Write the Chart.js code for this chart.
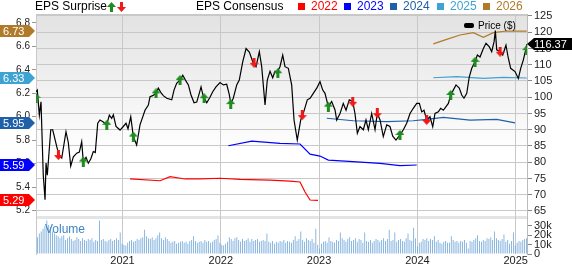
<!DOCTYPE html>
<html>
<head>
<meta charset="utf-8">
<script src="https://cdn.jsdelivr.net/npm/chart.js@4.4.1/dist/chart.umd.min.js"></script>
<style>
  html, body { margin: 0; padding: 0; background: #fff; }
  #wrap { width: 572px; height: 264px; }
</style>
</head>
<body>
<div id="wrap"><canvas id="chart" width="572" height="264"></canvas></div>
<script>
// Price line: time as decimal year, price in $
const priceT = [
  2020.120, 2020.133, 2020.154, 2020.171, 2020.194, 2020.212, 2020.222, 2020.235, 2020.270, 2020.290,
  2020.331, 2020.354, 2020.382, 2020.425, 2020.449, 2020.473, 2020.500, 2020.534, 2020.561, 2020.585,
  2020.601, 2020.629, 2020.652, 2020.677, 2020.703, 2020.723, 2020.748, 2020.771, 2020.805, 2020.839,
  2020.866, 2020.890, 2020.907, 2020.934, 2020.975, 2021.008, 2021.036, 2021.056, 2021.084, 2021.110,
  2021.144, 2021.178, 2021.229, 2021.263, 2021.280, 2021.307, 2021.341, 2021.364, 2021.389, 2021.415,
  2021.450, 2021.501, 2021.524, 2021.551, 2021.585, 2021.613, 2021.636, 2021.670, 2021.697, 2021.728,
  2021.755, 2021.781, 2021.799, 2021.822, 2021.857, 2021.890, 2021.918, 2021.951, 2021.992, 2022.026,
  2022.060, 2022.087, 2022.101, 2022.127, 2022.162, 2022.188, 2022.223, 2022.257, 2022.290, 2022.325,
  2022.358, 2022.392, 2022.416, 2022.450, 2022.473, 2022.501, 2022.528, 2022.552, 2022.569, 2022.602,
  2022.630, 2022.653, 2022.687, 2022.721, 2022.745, 2022.778, 2022.813, 2022.840, 2022.880, 2022.908,
  2022.941, 2022.976, 2023.009, 2023.037, 2023.060, 2023.094, 2023.128, 2023.162, 2023.179, 2023.213,
  2023.246, 2023.274, 2023.307, 2023.342, 2023.365, 2023.389, 2023.416, 2023.450, 2023.477, 2023.501,
  2023.535, 2023.569, 2023.592, 2023.620, 2023.653, 2023.688, 2023.721, 2023.749, 2023.782, 2023.823,
  2023.857, 2023.891, 2023.925, 2023.958, 2023.993, 2024.020, 2024.044, 2024.067, 2024.095, 2024.128,
  2024.156, 2024.179, 2024.213, 2024.237, 2024.264, 2024.291, 2024.315, 2024.339, 2024.365, 2024.393,
  2024.426, 2024.451, 2024.474, 2024.502, 2024.528, 2024.553, 2024.586, 2024.610, 2024.637, 2024.671,
  2024.698, 2024.732, 2024.756, 2024.780, 2024.793, 2024.807, 2024.841, 2024.868, 2024.901, 2024.925,
  2024.949, 2024.993, 2025.027, 2025.051, 2025.078, 2025.115
];
const priceV = [
  101.7, 102.2, 94.5, 98.6, 76.0, 68.5, 79.8, 76.0, 90.0, 90.0,
  84.8, 82.2, 81.3, 89.4, 86.0, 78.8, 81.7, 82.8, 83.1, 86.3,
  80.2, 81.5, 79.7, 81.0, 83.3, 83.0, 92.0, 93.0, 92.4, 91.5,
  94.5, 93.5, 94.6, 91.0, 89.9, 91.0, 92.0, 90.3, 94.0, 87.9,
  85.3, 91.5, 96.0, 97.6, 100.2, 100.5, 101.2, 102.8, 101.5, 100.5,
  99.7, 99.2, 102.2, 104.3, 105.3, 106.8, 105.5, 103.8, 100.7, 98.3,
  98.5, 101.2, 103.2, 100.2, 98.3, 100.0, 101.7, 103.2, 104.5, 103.8,
  104.0, 100.7, 98.1, 99.7, 103.8, 105.3, 110.9, 115.0, 113.9, 110.9,
  109.4, 114.0, 109.4, 97.6, 105.3, 108.0, 106.0, 108.0, 107.5, 109.4,
  113.0, 109.4, 108.9, 103.8, 93.0, 86.8, 93.0, 95.1, 99.2, 99.7,
  101.2, 102.8, 104.8, 102.2, 101.2, 97.1, 98.7, 96.1, 93.0, 95.0,
  98.1, 96.0, 99.2, 98.7, 95.0, 88.9, 91.0, 90.0, 93.0, 90.0,
  95.0, 90.0, 95.0, 93.0, 87.9, 91.5, 91.0, 88.0, 86.8, 88.4,
  90.0, 92.0, 95.0, 96.6, 98.1, 98.1, 95.5, 96.0, 93.0, 94.0,
  90.9, 95.0, 95.5, 96.6, 96.0, 97.1, 98.1, 100.7, 102.2, 103.8,
  102.8, 100.7, 99.7, 101.2, 106.3, 108.9, 110.9, 113.0, 112.4, 115.0,
  116.6, 115.5, 114.0, 117.1, 120.5, 114.6, 114.0, 113.0, 116.0, 112.0,
  108.9, 107.9, 105.8, 108.9, 111.5, 116.37
];

// EPS surprise markers: time, price level, beat (1) or miss (0)
const surpriseT = [2020.120, 2020.348, 2020.601, 2020.840, 2021.110, 2021.341, 2021.585, 2021.830,
  2022.101, 2022.338, 2022.580, 2022.829, 2023.094, 2023.342, 2023.592, 2023.823, 2024.095,
  2024.339, 2024.586, 2024.841, 2025.112];
const surpriseP = [99.8, 82.2, 80.2, 91.5, 87.9, 101.2, 105.3, 99.7, 97.9, 110.6, 107.4, 94.5,
  97.1, 98.6, 95.1, 88.4, 93.0, 100.7, 110.9, 114.0, 114.5];
const surpriseBeat = [1, 0, 1, 1, 1, 1, 1, 1, 1, 0, 1, 0, 1, 0, 0, 1, 0, 1, 1, 0, 1];

// EPS consensus by fiscal year
const epsYears = ['2022', '2023', '2024', '2025', '2026'];
const epsColors = ['#ff0000', '#0000ff', '#2060a8', '#3ea2d2', '#b07a2a'];
const eps2022T = [2021.077, 2021.382, 2021.484, 2021.636, 2021.789, 2021.992, 2022.196, 2022.501, 2022.704, 2022.806, 2022.857, 2022.908, 2022.989];
const eps2022V = [5.470, 5.455, 5.489, 5.470, 5.470, 5.476, 5.467, 5.461, 5.452, 5.444, 5.359, 5.291, 5.288];
const eps2023T = [2022.077, 2022.315, 2022.602, 2022.806, 2022.908, 2023.009, 2023.094, 2023.345, 2023.620, 2023.823, 2023.993];
const eps2023V = [5.753, 5.793, 5.774, 5.768, 5.682, 5.665, 5.631, 5.617, 5.603, 5.583, 5.589];
const eps2024T = [2023.078, 2023.348, 2023.688, 2023.958, 2024.095, 2024.264, 2024.535, 2024.807, 2024.993];
const eps2024V = [5.987, 5.966, 5.958, 5.966, 5.978, 5.995, 5.972, 5.978, 5.947];
const eps2025T = [2024.162, 2024.400, 2024.671, 2024.874, 2025.112];
const eps2025V = [6.332, 6.341, 6.327, 6.336, 6.330];
const eps2026T = [2024.162, 2024.298, 2024.434, 2024.569, 2024.671, 2024.773, 2024.909, 2025.112];
const eps2026V = [6.620, 6.659, 6.696, 6.716, 6.676, 6.716, 6.730, 6.730];
const epsCurrent = ['5.29', '5.59', '5.95', '6.33', '6.73'];

// Weekly volume (thousands of shares)
const volume = [
  18, 22, 24, 27, 30, 36, 31, 29, 24, 22, 20, 19, 17,
  19, 20, 15, 17, 19, 16, 14, 15, 18, 16, 14, 17, 15,
  14, 16, 15, 17, 13, 15, 14, 36, 15, 16, 14, 13, 15,
  16, 14, 15, 17, 15, 23, 11, 10, 9, 12, 14, 15, 13,
  14, 16, 15, 17, 18, 26, 19, 17, 16, 18, 15, 17, 20,
  23, 17, 15, 18, 16, 14, 12, 13, 14, 11, 12, 13, 14,
  12, 13, 11, 14, 15, 19, 14, 12, 13, 14, 12, 15, 13,
  14, 12, 13, 15, 16, 20, 12, 10, 9, 11, 13, 18, 16,
  14, 17, 18, 15, 13, 16, 14, 15, 17, 13, 16, 14, 15,
  16, 13, 14, 15, 14, 22, 13, 12, 14, 11, 13, 12, 14,
  13, 15, 12, 14, 13, 12, 15, 19, 14, 16, 24, 15, 13,
  17, 15, 14, 16, 12, 27, 10, 6, 11, 13, 14, 12, 18,
  14, 13, 12, 15, 14, 23, 17, 15, 13, 16, 18, 14, 15,
  17, 13, 16, 15, 12, 23, 14, 13, 15, 12, 14, 16, 15,
  13, 15, 17, 14, 16, 26, 14, 15, 23, 13, 15, 16, 14,
  13, 17, 22, 15, 14, 28, 17, 8, 12, 13, 16, 15, 17,
  14, 16, 15, 19, 13, 15, 12, 11, 13, 14, 12, 12, 19,
  15, 13, 14, 12, 14, 13, 15, 12, 6, 14, 13, 15, 17,
  20, 14, 13, 15, 14, 17, 16, 18, 15, 24, 17, 15, 14,
  16, 21, 13, 15, 11, 14, 23, 9, 12, 14, 13, 15, 16,
  17
];

// Axis ticks
const yearTicks = [2021, 2022, 2023, 2024, 2025];
const priceTicks = [65, 70, 75, 80, 85, 90, 95, 100, 105, 110, 115, 120, 125];
const epsTicks = [5.2, 5.4, 5.6, 5.8, 6.0, 6.2, 6.4, 6.6, 6.8];
const volTicks = [0, 10, 20, 30];
const lastPrice = '116.37';

const FONT = "'Liberation Sans', Arial, sans-serif";
Chart.defaults.font.family = FONT;

function arrowIcon(color, up) {
    const c = document.createElement('canvas');
    c.width = 9;
    c.height = 10;
    const g = c.getContext('2d');
    g.fillStyle = color;
    g.beginPath();
    if (up) {
        g.moveTo(4.5, 0); g.lineTo(9, 5); g.lineTo(6, 5); g.lineTo(6, 10);
        g.lineTo(3, 10); g.lineTo(3, 5); g.lineTo(0, 5);
    } else {
        g.moveTo(4.5, 10); g.lineTo(9, 5); g.lineTo(6, 5); g.lineTo(6, 0);
        g.lineTo(3, 0); g.lineTo(3, 5); g.lineTo(0, 5);
    }
    g.closePath();
    g.fill();
    return c;
}
const upIcon = arrowIcon('#1e8c1e', true);
const downIcon = arrowIcon('#f01818', false);

const xy = (t, v) => t.map((x, i) => ({ x: x, y: v[i] }));
const epsSeries = [[eps2022T, eps2022V], [eps2023T, eps2023V], [eps2024T, eps2024V], [eps2025T, eps2025V], [eps2026T, eps2026V]];

// backgrounds, separator band and frame
const panels = {
    id: 'panels',
    beforeDraw(chart) {
        const { ctx, chartArea: a, scales } = chart;
        ctx.save();
        ctx.fillStyle = '#fff';
        ctx.fillRect(0, 0, chart.width, chart.height);
        const yb = scales.y.bottom;
        const grad = ctx.createLinearGradient(0, a.top, 0, a.top + 140);
        grad.addColorStop(0, '#e2e2e2');
        grad.addColorStop(1, '#ffffff');
        ctx.fillStyle = grad;
        ctx.fillRect(a.left, a.top, a.right - a.left, yb - a.top);
        ctx.fillStyle = '#e4e4e4';
        ctx.fillRect(a.left, yb, a.right - a.left, 3);
        ctx.strokeStyle = '#c8c8c8';
        ctx.lineWidth = 1;
        ctx.beginPath();
        ctx.moveTo(a.left, a.top + 0.5);
        ctx.lineTo(a.right, a.top + 0.5);
        ctx.stroke();
        ctx.restore();
    },
    afterDraw(chart) {
        const { ctx, chartArea: a, scales } = chart;
        ctx.save();
        ctx.textBaseline = 'middle';

        // header
        ctx.font = '12px ' + FONT;
        ctx.fillStyle = '#000';
        ctx.fillText('EPS Surprise', 35, 7);
        ctx.drawImage(upIcon, 107, 2);
        ctx.drawImage(downIcon, 117, 2);
        ctx.fillText('EPS Consensus', 196, 7);
        const legX = [298, 344, 390, 437, 483];
        epsYears.forEach((yr, i) => {
            ctx.fillStyle = epsColors[i];
            ctx.fillRect(legX[i], 3, 7, 7);
            ctx.fillText(yr, legX[i] + 13, 7);
        });

        // price legend
        ctx.fillStyle = '#000';
        ctx.beginPath();
        ctx.roundRect(464, 23, 10, 5, 2);
        ctx.fill();
        ctx.font = '10px ' + FONT;
        ctx.fillText('Price ($)', 478, 26);

        // volume label
        ctx.font = '12px ' + FONT;
        ctx.fillStyle = '#3d85c6';
        ctx.fillText('Volume', 45, 230);

        // EPS current value tags on the left
        ctx.font = '11px ' + FONT;
        epsCurrent.forEach((v, i) => {
            const py = Math.round(scales.ye.getPixelForValue(parseFloat(v)));
            ctx.fillStyle = epsColors[i];
            ctx.beginPath();
            ctx.moveTo(0, py - 6);
            ctx.lineTo(29, py - 6);
            ctx.lineTo(35, py);
            ctx.lineTo(29, py + 6);
            ctx.lineTo(0, py + 6);
            ctx.closePath();
            ctx.fill();
            ctx.fillStyle = '#fff';
            ctx.fillText(v, 3, py + 0.5);
        });

        // last price tag on the right
        const lp = Math.round(scales.y.getPixelForValue(parseFloat(lastPrice)));
        ctx.fillStyle = '#000';
        ctx.beginPath();
        ctx.moveTo(a.right, lp);
        ctx.lineTo(a.right + 7, lp - 6);
        ctx.lineTo(572, lp - 6);
        ctx.lineTo(572, lp + 6);
        ctx.lineTo(a.right + 7, lp + 6);
        ctx.closePath();
        ctx.fill();
        ctx.fillStyle = '#fff';
        ctx.fillText(lastPrice, a.right + 7, lp + 0.5);
        ctx.restore();
    }
};

const datasets = [
    {
        type: 'line', label: 'EPS Surprise',
        data: xy(surpriseT, surpriseP),
        xAxisID: 'x', yAxisID: 'y',
        showLine: false,
        pointStyle: surpriseBeat.map(b => b ? upIcon : downIcon),
        pointRadius: 5,
        order: 0
    },
    {
        type: 'line', label: 'Price ($)',
        data: xy(priceT, priceV),
        xAxisID: 'x', yAxisID: 'y',
        borderColor: '#000', borderWidth: 1.2,
        pointRadius: 0, tension: 0,
        order: 1
    }
];
epsSeries.forEach((s, i) => {
    datasets.push({
        type: 'line', label: epsYears[i],
        data: xy(s[0], s[1]),
        xAxisID: 'x', yAxisID: 'ye',
        borderColor: epsColors[i], borderWidth: 1.2,
        pointRadius: 0, tension: 0,
        order: 2
    });
});
datasets.push({
    type: 'bar', label: 'Volume',
    data: volume,
    xAxisID: 'xv', yAxisID: 'yv',
    backgroundColor: '#6fa6da',
    barPercentage: 0.85, categoryPercentage: 1,
    order: 10
});

new Chart(document.getElementById('chart'), {
    data: {
        labels: volume.map((_, i) => i),
        datasets: datasets
    },
    options: {
        responsive: false,
        animation: false,
        devicePixelRatio: 1,
        layout: { padding: { top: 14, left: 0, right: 0, bottom: 0 } },
        plugins: { legend: { display: false }, tooltip: { enabled: false } },
        scales: {
            x: {
                type: 'linear', position: 'bottom',
                min: 2020.12, max: 2025.115,
                afterBuildTicks: s => { s.ticks = yearTicks.map(v => ({ value: v })); },
                afterFit: s => { s.height = 10; },
                grid: { color: '#c8c8c8', drawTicks: false },
                border: { display: false },
                ticks: { padding: 0, autoSkip: false, color: '#222', font: { size: 11 }, maxRotation: 0, callback: v => String(v) }
            },
            xv: { type: 'category', display: false, offset: true },
            ye: {
                type: 'linear', position: 'left',
                min: 4.831, max: 6.875,
                afterBuildTicks: s => { s.ticks = epsTicks.map(v => ({ value: v })); },
                afterFit: s => { s.width = 36; },
                grid: { drawOnChartArea: false, tickLength: 4, color: '#999' },
                border: { color: '#c8c8c8' },
                ticks: { padding: 2, autoSkip: false, color: '#222', font: { size: 10 }, callback: v => v.toFixed(1) }
            },
            y: {
                type: 'linear', position: 'right',
                stack: 'right', stackWeight: 202,
                min: 63.46, max: 125.615,
                afterBuildTicks: s => { s.ticks = priceTicks.map(v => ({ value: v })); },
                afterFit: s => { s.width = 45; },
                grid: { color: '#c8c8c8', tickLength: 5, tickColor: '#888' },
                border: { color: '#bbb' },
                ticks: { padding: 2, autoSkip: false, color: '#222', font: { size: 11 }, callback: v => String(v) }
            },
            yv: {
                type: 'linear', position: 'right',
                stack: 'right', stackWeight: 38,
                min: 0, max: 40.7,
                afterBuildTicks: s => { s.ticks = volTicks.map(v => ({ value: v })); },
                afterFit: s => { s.width = 45; },
                grid: { drawOnChartArea: false, tickLength: 5, color: '#888' },
                border: { color: '#bbb' },
                ticks: { padding: 2, autoSkip: false, color: '#222', font: { size: 11 }, callback: v => v === 0 ? '0' : v + 'k' }
            }
        }
    },
    plugins: [panels]
});
</script>
</body>
</html>
